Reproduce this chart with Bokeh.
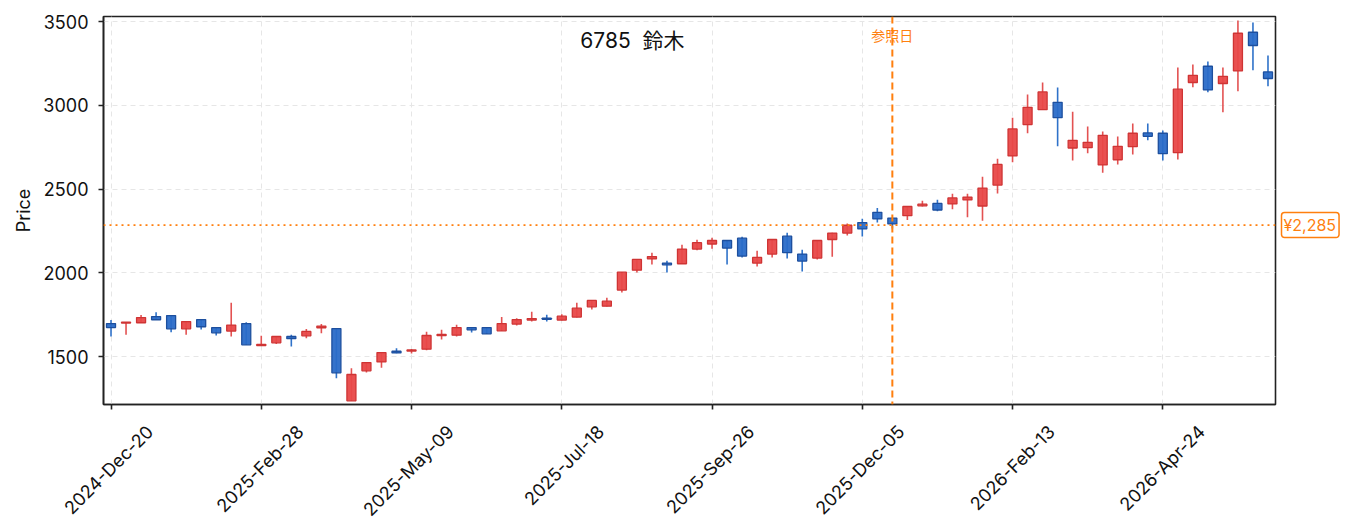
import math
import pandas as pd
from bokeh.plotting import figure
from bokeh.layouts import row
from bokeh.models import (ColumnDataSource, FixedTicker, DatetimeTickFormatter,
                          DatetimeAxis, Span, Label, Range1d)
from bokeh.embed import file_html
from bokeh.resources import INLINE

# ---- data (weekly OHLC) ----
start_date = "2024-12-20"
n_weeks = 78
opens = [1697, 1700, 1702, 1739, 1745, 1666, 1721, 1673, 1652, 1697,
         1565, 1582, 1620, 1624, 1672, 1667, 1236, 1415, 1468, 1532,
         1533, 1544, 1625, 1628, 1673, 1673, 1654, 1694, 1718, 1729,
         1718, 1736, 1797, 1801, 1897, 2016, 2083, 2058, 2054, 2142,
         2172, 2193, 2207, 2058, 2112, 2219, 2112, 2088, 2199, 2237,
         2300, 2361, 2327, 2341, 2400, 2414, 2411, 2435, 2399, 2524,
         2698, 2885, 2974, 3018, 2745, 2747, 2644, 2675, 2753, 2835,
         2833, 2717, 3136, 3233, 3130, 3205, 3436, 3199]
highs = [1718, 1707, 1748, 1765, 1748, 1712, 1722, 1675, 1821, 1705,
         1624, 1622, 1630, 1664, 1694, 1668, 1431, 1466, 1526, 1550,
         1546, 1648, 1660, 1690, 1675, 1674, 1737, 1729, 1767, 1749,
         1753, 1821, 1838, 1851, 2005, 2082, 2120, 2072, 2168, 2197,
         2209, 2195, 2215, 2132, 2201, 2239, 2138, 2195, 2239, 2295,
         2323, 2387, 2330, 2398, 2430, 2436, 2472, 2472, 2574, 2681,
         2926, 3064, 3136, 3106, 2962, 2873, 2843, 2813, 2891, 2891,
         2849, 3225, 3243, 3261, 3225, 3506, 3494, 3297]
lows = [1620, 1630, 1700, 1718, 1645, 1630, 1662, 1626, 1620, 1570,
        1563, 1575, 1560, 1610, 1640, 1370, 1236, 1405, 1434, 1520,
        1518, 1538, 1602, 1620, 1644, 1635, 1652, 1686, 1709, 1709,
        1715, 1734, 1781, 1799, 1883, 2002, 2050, 2002, 2052, 2134,
        2144, 2050, 2092, 2038, 2092, 2086, 2008, 2080, 2096, 2223,
        2217, 2301, 2265, 2315, 2396, 2367, 2379, 2331, 2311, 2474,
        2660, 2833, 2972, 2755, 2671, 2713, 2598, 2647, 2707, 2791,
        2671, 2677, 3107, 3078, 2958, 3084, 3209, 3113]
closes = [1673, 1705, 1733, 1720, 1666, 1709, 1678, 1642, 1688, 1570,
          1572, 1620, 1607, 1650, 1682, 1403, 1393, 1464, 1524, 1522,
          1540, 1626, 1633, 1673, 1660, 1636, 1697, 1721, 1727, 1723,
          1741, 1789, 1835, 1831, 2004, 2080, 2097, 2048, 2142, 2180,
          2193, 2148, 2100, 2092, 2199, 2120, 2070, 2193, 2237, 2284,
          2262, 2322, 2292, 2396, 2410, 2375, 2447, 2452, 2506, 2647,
          2859, 2988, 3080, 2926, 2791, 2779, 2821, 2755, 2833, 2815,
          2711, 3096, 3179, 3092, 3173, 3430, 3357, 3160]
ticker_code = "6785"
company_name = "鈴木"
ref_index = 52
ref_price = 2285
ref_label = "参照日"
price_label = "¥2,285"
y_ticks = [1500, 2000, 2500, 3000, 3500]
x_tick_every = 10

# ---- build ----
dates = pd.date_range(start_date, periods=n_weeks, freq="7D")
week_ms = 7 * 24 * 3600 * 1000

RED_FILL, RED_LINE = "#e84848", "#cf3434"
BLUE_FILL, BLUE_LINE = "#2a6cc8", "#1d4f9e"
up = [c >= o for o, c in zip(opens, closes)]
src = ColumnDataSource(dict(
    x=dates, o=opens, h=highs, l=lows, c=closes,
    top=[max(o, c) for o, c in zip(opens, closes)],
    bot=[min(o, c) for o, c in zip(opens, closes)],
    fill=[RED_FILL if u else BLUE_FILL for u in up],
    line=[RED_LINE if u else BLUE_LINE for u in up],
    wick=["#e35252" if u else "#2f72c9" for u in up],
))

FONT = "Inter, Noto Sans CJK JP"
CJK = "Noto Sans CJK JP"
H, TOP, BOTTOM = 530, 16, 126
x0 = dates[0].value // 10**6
xs, xe = x0 - 0.5 * week_ms, x0 + 77.5 * week_ms
yr = Range1d(1214, 3530)
p = figure(width=1277, height=H, output_backend="svg", toolbar_location=None,
           x_axis_type="datetime", x_range=Range1d(xs, xe), y_range=yr,
           min_border_left=103, min_border_right=2, min_border_top=TOP,
           min_border_bottom=BOTTOM)

p.segment(x0="x", y0="h", x1="x", y1="l", source=src, line_color="wick", line_width=1.6)
p.vbar(x="x", top="top", bottom="bot", width=0.6 * week_ms, source=src,
       fill_color="fill", line_color="line", line_width=1.3, fill_alpha=0.95)

ORANGE = "#ff7f0e"
p.add_layout(Span(location=ref_price, dimension="width", line_color=ORANGE,
                  line_width=1.6, line_dash="2 4"))
ref_ms = dates[ref_index].value // 10**6
p.add_layout(Span(location=ref_ms, dimension="height", line_color=ORANGE,
                  line_width=2, line_dash="7 4"))

p.add_layout(Label(x=ref_ms, y=3417, text=ref_label, text_color=ORANGE,
                   text_font=CJK, text_font_size="14px", text_align="center",
                   text_baseline="middle"))
p.add_layout(Label(x=x0 + 34.7 * week_ms, y=3385,
                   text=f"{ticker_code}\u00a0\u00a0{company_name}", text_color="#111111",
                   text_font=FONT, text_font_size="21px", text_align="center",
                   text_baseline="middle"))

# x axis: tick marks on the main axis, rotated labels on a second axis whose
# range is shifted so that each label's box is centred under its tick
tick_dates = list(dates[::x_tick_every])
tick_ms = [d.value // 10**6 for d in tick_dates]
fmt = "%Y-%b-%d"
formatter = DatetimeTickFormatter(days=fmt, months=fmt, years=fmt,
                                  hours=fmt, minutes=fmt, seconds=fmt)
p.xaxis.ticker = FixedTicker(ticks=tick_ms)
p.xaxis.major_label_overrides = {t: "" for t in tick_ms}
p.xaxis.major_label_standoff = 0

shift = 2.59 * week_ms
p.extra_x_ranges = {"lbl": Range1d(xs - shift, xe - shift)}
lbl_axis = DatetimeAxis(x_range_name="lbl", ticker=FixedTicker(ticks=tick_ms),
                        formatter=formatter, major_label_orientation=math.pi / 4,
                        axis_line_color=None, major_tick_line_color=None,
                        minor_tick_line_color=None, major_tick_in=0, major_tick_out=0,
                        major_label_standoff=19, major_label_text_font=FONT,
                        major_label_text_font_size="18px",
                        major_label_text_color="#111111")
p.add_layout(lbl_axis, "below")

p.yaxis.ticker = FixedTicker(ticks=y_ticks)
p.yaxis.axis_label = "Price"
for ax in (p.xaxis[0], p.yaxis[0]):
    ax.major_label_text_font = FONT
    ax.major_label_text_font_size = "18px"
    ax.major_label_text_color = "#111111"
    ax.axis_line_color = "#222222"
    ax.axis_line_width = 1.6
    ax.major_tick_line_color = "#222222"
    ax.major_tick_line_width = 1.6
    ax.major_tick_in = 0
    ax.major_tick_out = 5
    ax.minor_tick_line_color = None
p.yaxis.major_label_standoff = 10
p.yaxis.axis_label_text_font = FONT
p.yaxis.axis_label_text_font_size = "18px"
p.yaxis.axis_label_text_font_style = "normal"
p.yaxis.axis_label_text_color = "#111111"
p.yaxis.axis_label_standoff = 6

p.grid.grid_line_color = "#e6e6e6"
p.grid.grid_line_dash = "5 4"
p.grid.grid_line_width = 1
p.outline_line_color = "#222222"
p.outline_line_width = 1.6
p.outline_line_alpha = 1

# right-hand strip holding the boxed price label (same y scale)
side = figure(width=68, height=H, output_backend="svg", toolbar_location=None,
              x_range=Range1d(0, 68), y_range=yr, min_border_left=0,
              min_border_right=0, min_border_top=TOP, min_border_bottom=BOTTOM)
side.axis.visible = False
side.grid.visible = False
side.outline_line_color = None
side.add_layout(Label(x=4, y=ref_price, text=price_label,
                      text_color=ORANGE, text_font=FONT, text_font_size="16px",
                      text_baseline="middle", text_align="left",
                      background_fill_color="white", border_line_color=ORANGE,
                      border_line_width=1.5, padding=(2, 3, 2, 3), border_radius=3))

layout = row(p, side)
open("out.html", "w").write(file_html(layout, INLINE))
